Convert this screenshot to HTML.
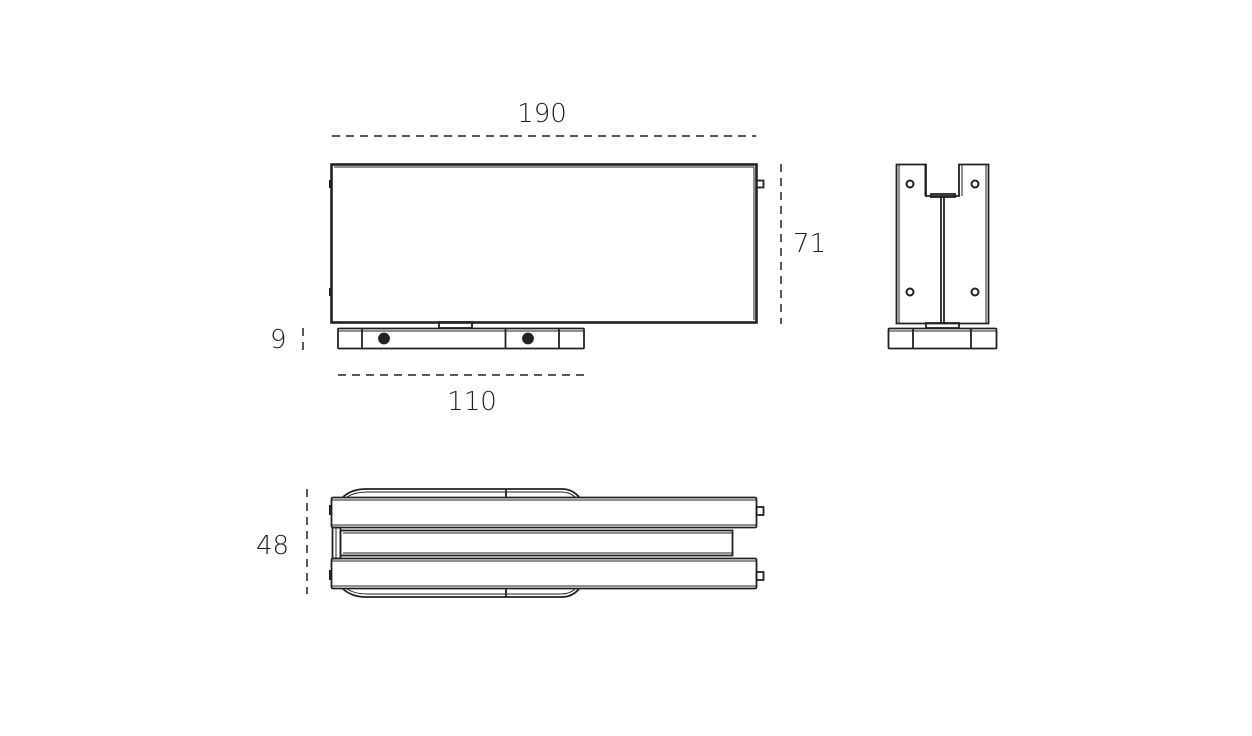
<!DOCTYPE html>
<html><head><meta charset="utf-8"><style>
html,body{margin:0;padding:0;background:#fff;}
svg{display:block}
text{font-family:"DejaVu Sans","Liberation Sans",sans-serif;font-size:26px;fill:#222;font-weight:300}
</style></head><body>
<svg width="1252" height="736" viewBox="0 0 1252 736" xmlns="http://www.w3.org/2000/svg">
<g fill="none" stroke="#222" stroke-width="1.8">
<g stroke-dasharray="8,6" stroke-width="1.5">
<line x1="332" y1="136" x2="756" y2="136"/>
<line x1="781" y1="164" x2="781" y2="324"/>
<line x1="338" y1="375" x2="584" y2="375"/>
<line x1="303" y1="328" x2="303" y2="350"/>
<line x1="307" y1="489" x2="307" y2="594"/>
</g>
<rect x="331.5" y="164.5" width="425" height="158" stroke-width="2.6"/>
<line x1="334" y1="167" x2="754" y2="167" stroke-width="1"/>
<line x1="754" y1="167" x2="754" y2="320" stroke-width="1"/>
<rect x="756.5" y="180.5" width="7" height="7"/>
<line x1="330" y1="180" x2="330" y2="188" stroke-width="2"/>
<line x1="330" y1="288" x2="330" y2="296" stroke-width="2"/>
<rect x="439" y="322" width="33" height="6"/>
<rect x="338" y="328.5" width="246" height="20" rx="1"/>
<line x1="339" y1="331" x2="583" y2="331" stroke-width="1"/>
<line x1="362" y1="329" x2="362" y2="348"/>
<line x1="505.5" y1="329" x2="505.5" y2="348"/>
<line x1="559" y1="329" x2="559" y2="348"/>
<circle cx="384" cy="338.5" r="5" fill="#222"/>
<circle cx="528" cy="338.5" r="5" fill="#222"/>
<path d="M896.5,164.5 H926 V196 H959 V164.5 H988.5 V323.5 H896.5 Z"/>
<line x1="925" y1="164" x2="925" y2="196" stroke-width="1"/>
<line x1="962" y1="164" x2="962" y2="196" stroke-width="1"/>
<rect x="931" y="194" width="24" height="3"/>
<line x1="941" y1="197" x2="941" y2="323"/>
<line x1="944" y1="197" x2="944" y2="323"/>
<line x1="899" y1="165" x2="899" y2="323" stroke-width="1"/>
<line x1="986" y1="165" x2="986" y2="323" stroke-width="1"/>
<circle cx="910" cy="184" r="3.5" stroke-width="2"/>
<circle cx="975" cy="184" r="3.5" stroke-width="2"/>
<circle cx="910" cy="292" r="3.5" stroke-width="2"/>
<circle cx="975" cy="292" r="3.5" stroke-width="2"/>
<rect x="926" y="323" width="33" height="5"/>
<rect x="888.5" y="328.5" width="108" height="20" rx="1"/>
<line x1="889" y1="331" x2="996" y2="331" stroke-width="1"/>
<line x1="913" y1="329" x2="913" y2="348"/>
<line x1="971" y1="329" x2="971" y2="348"/>
<path d="M343,497 Q352,489 366,489 H562 Q572,489 579,497"/>
<path d="M347,497 Q355,492 367,492 H561 Q570,492 575,497" stroke-width="1"/>
<path d="M343,589 Q352,597 366,597 H562 Q572,597 579,589"/>
<path d="M347,589 Q355,594 367,594 H561 Q570,594 575,589" stroke-width="1"/>
<line x1="506" y1="489" x2="506" y2="497"/>
<line x1="506" y1="589" x2="506" y2="597"/>
<rect x="331.5" y="497.5" width="425" height="30" rx="1.5" fill="#fff"/>
<line x1="332" y1="500" x2="756" y2="500" stroke-width="1"/>
<line x1="332" y1="525" x2="756" y2="525" stroke-width="1"/>
<rect x="331.5" y="558.5" width="425" height="30" rx="1.5" fill="#fff"/>
<line x1="332" y1="561" x2="756" y2="561" stroke-width="1"/>
<line x1="332" y1="586" x2="756" y2="586" stroke-width="1"/>
<rect x="340.5" y="530.5" width="392" height="25"/>
<line x1="343" y1="533" x2="732" y2="533" stroke-width="1"/>
<line x1="343" y1="553" x2="732" y2="553" stroke-width="1"/>
<rect x="332.5" y="527.5" width="8" height="31"/>
<line x1="336" y1="528" x2="336" y2="558" stroke-width="1"/>
<rect x="756.5" y="507" width="7" height="8"/>
<rect x="756.5" y="572" width="7" height="8"/>
<line x1="330" y1="505" x2="330" y2="515" stroke-width="2"/>
<line x1="330" y1="570" x2="330" y2="580" stroke-width="2"/>
</g>
<text x="542" y="122" text-anchor="middle">190</text>
<text x="793" y="252">71</text>
<text x="270" y="348">9</text>
<text x="472" y="410" text-anchor="middle">110</text>
<text x="256" y="554">48</text>
</svg>
</body></html>
